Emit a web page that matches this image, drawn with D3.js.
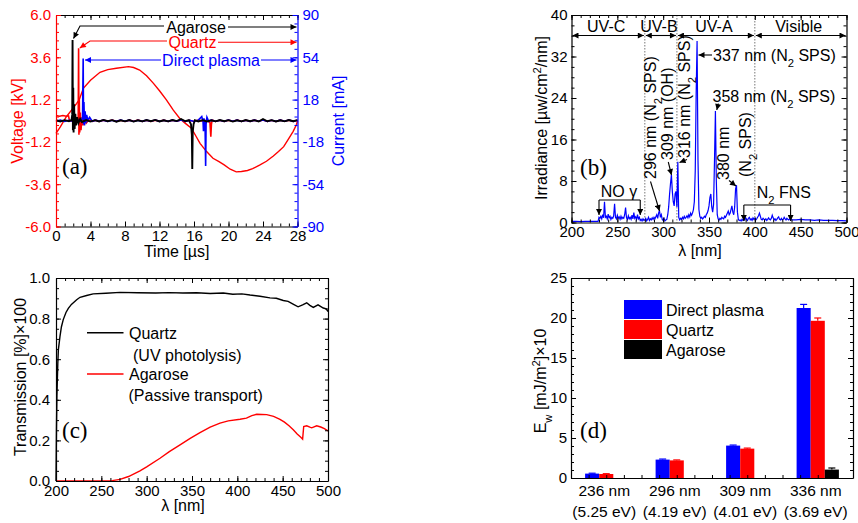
<!DOCTYPE html>
<html><head><meta charset="utf-8">
<script src="https://cdn.jsdelivr.net/npm/d3@7"></script>
<style>
body{margin:0;background:#fff}
svg{display:block}
</style>
</head><body>
<svg id="c" width="858" height="523" font-family="Liberation Sans, Arial, sans-serif"></svg>
<script>
// ---------------- DATA ----------------
// (a) voltage [kV] vs time [us]
const voltage = [[0,-0.72],[0.5,-0.35],[1.2,0.23],[1.8,0.6],[2.4,0.99],[2.7,1.2],[3.17,1.84],[4,2.3],[5.1,2.75],[6,2.9],[7,2.98],[8.4,3.07],[9,3.02],[9.7,2.88],[10.5,2.55],[11.3,2.12],[12,1.7],[12.8,1.18],[13.6,0.6],[14.4,0.1],[15,-0.15],[15.7,-0.43],[16.2,-0.85],[16.7,-1.28],[17.46,-1.75],[18.2,-2.13],[18.9,-2.32],[19.5,-2.5],[20.2,-2.75],[20.9,-2.9],[21.5,-2.88],[22.2,-2.82],[22.8,-2.72],[23.6,-2.52],[24.4,-2.3],[25.2,-2.0],[25.8,-1.75],[26.4,-1.47],[27,-1.0],[27.5,-0.6],[27.9,-0.2],[28,0]];
// (a) currents [mA]
const curQuartz = [[0,4.5],[0.4,3.9],[0.8,4.4],[1.2,3.9],[1.45,4.2],[1.55,0.5],[1.9,-0.5],[2.2,0.6],[2.5,-0.4],[2.58,4],[2.62,61.6],[2.66,-12],[2.7,18],[2.75,-10],[2.82,7],[2.9,-8],[3.0,3],[3.12,-4],[3.3,2],[3.5,-2],[3.8,0.6],[4.2,-0.5],[4.6,0.5],[5,-0.6],[5.5,0.5],[6,-0.4],[6.5,0.6],[7,-0.5],[7.5,0.4],[8,-0.6],[8.5,0.5],[9,-0.4],[9.5,0.6],[10,-0.5],[10.5,0.4],[11,-0.6],[11.5,0.5],[12,-0.4],[12.5,0.5],[13,-0.6],[13.5,0.4],[14,-0.4],[14.5,0.6],[15,-0.5],[15.5,0.4],[16,-0.6],[16.5,0.5],[17,-0.4],[17.5,0.5],[17.85,-1.5],[17.95,-13.5],[18.02,-3],[18.1,0.5],[18.5,-0.5],[19,0.4],[19.5,-0.6],[20,0.5],[20.5,-0.4],[21,0.6],[21.5,-0.5],[22,0.4],[22.5,-0.5],[23,0.5],[23.5,-0.4],[24,0.6],[24.5,-0.5],[25,0.4],[25.5,-0.6],[26,0.5],[26.5,-0.4],[27,0.5],[27.5,-0.5],[28,0.4]];
const curDirect = [[0,-0.5],[0.5,0.5],[1,-0.6],[1.5,0.4],[2,-0.5],[2.5,0.6],[2.9,-0.5],[3.08,3],[3.15,53],[3.19,-3],[3.24,16],[3.3,-4],[3.38,8],[3.46,-2],[3.55,5],[3.7,0.5],[3.9,3],[4.2,-0.5],[4.6,0.5],[5,-0.4],[5.5,0.5],[6,-0.6],[6.5,0.4],[7,-0.5],[7.5,0.6],[8,-0.4],[8.5,0.5],[9,-0.6],[9.5,0.4],[10,-0.5],[10.5,0.5],[11,-0.4],[11.5,0.6],[12,-0.5],[12.5,0.4],[13,-0.5],[13.5,0.5],[14,-0.4],[14.5,0.6],[15,-0.5],[15.5,0.4],[16,-0.6],[16.5,0.5],[16.9,3.5],[17.05,-1],[17.1,-9],[17.15,2],[17.28,-2],[17.35,-38.5],[17.4,-3],[17.5,3],[17.7,-0.5],[18,0.5],[18.5,-0.5],[19,0.4],[19.5,-0.5],[20,0.6],[20.5,-0.4],[21,0.5],[21.5,-0.6],[22,0.4],[22.5,-0.5],[23,0.5],[23.5,-0.4],[24,0.6],[24.5,-0.5],[25,0.4],[25.5,-0.5],[26,0.5],[26.5,-0.4],[27,0.6],[27.5,-0.5],[28,0.4]];
const curAgarose = [[0,0.4],[0.5,-0.6],[1,0.5],[1.5,-0.4],[1.8,0.5],[1.88,5],[1.92,68.7],[1.96,-8],[2.0,28],[2.04,-10],[2.1,14],[2.16,-7],[2.24,6],[2.32,-4],[2.45,3],[2.6,-2],[2.8,1.5],[3.0,-1.0],[3.5,0.6],[4,-0.7],[4.5,0.5],[5,-0.6],[5.5,0.7],[6,-0.4],[6.5,0.5],[7,-0.8],[7.5,0.4],[8,-0.5],[8.5,0.6],[9,-0.7],[9.5,0.4],[10,-0.5],[10.5,0.6],[11,-0.4],[11.5,0.7],[12,-0.6],[12.5,0.4],[13,-0.5],[13.5,0.6],[14,-0.3],[14.5,1.5],[15,-0.4],[15.4,0.5],[15.65,-3],[15.75,-12],[15.8,-41],[15.85,-10],[15.95,-3],[16.1,0.5],[16.5,-0.6],[17,0.5],[17.5,-0.6],[18,0.4],[18.5,-0.5],[19,0.6],[19.5,-0.4],[20,0.5],[20.5,-0.7],[21,0.4],[21.5,-0.5],[22,0.6],[22.5,-0.4],[23,0.5],[23.5,-0.6],[24,1.5],[24.5,-0.4],[25,0.5],[25.5,-0.6],[26,0.4],[26.5,-0.5],[27,0.6],[27.5,-0.4],[28,0.5]];
const timeTicks = [0,4,8,12,16,20,24,28];
const voltTicks = [-6,-3.6,-1.2,1.2,3.6,6];
const currTicks = [-90,-54,-18,18,54,90];

// (b) irradiance spectrum [uW/cm2/nm]
const spectrum = [[200,0.2],[205,0.2],[210,0.15],[215,0.2],[220,0.2],[225,0.2],[229,0.2],[230,1.0],[231,0.8],[232,1.2],[233,0.7],[234,1.5],[235,0.9],[236,4.0],[237,1.0],[238,1.2],[239,0.7],[240,1.6],[241,0.9],[242,1.2],[243,0.6],[244,1.0],[245,0.8],[246,1.3],[247,3.6],[248,1.0],[249,0.7],[250,1.4],[251,0.8],[252,1.1],[253,0.6],[254,1.2],[255,0.7],[256,1.0],[257,0.8],[258,1.5],[259,2.9],[260,0.9],[261,0.6],[262,1.3],[263,0.7],[264,1.0],[265,0.6],[266,1.4],[267,0.7],[268,1.9],[269,0.8],[270,1.1],[271,0.6],[272,1.5],[273,0.7],[274,1.0],[275,0.4],[276,0.6],[277,0.3],[278,0.7],[279,0.4],[280,0.5],[281,0.8],[282,0.3],[283,0.6],[284,1.0],[285,0.4],[286,0.7],[287,0.5],[288,0.9],[289,0.6],[290,1.0],[291,0.7],[292,1.1],[293,1.5],[294,0.8],[295,1.8],[296,2.3],[297,1.0],[298,1.5],[299,0.6],[300,0.4],[301,0.8],[302,0.3],[303,0.5],[304,0.6],[305,1.5],[306,3.0],[307,5.5],[308,7.5],[309,9.2],[310,6.0],[311,4.0],[312,3.2],[313,5.5],[314,6.0],[315,3.0],[316,11.7],[317,1.0],[318,0.5],[319,0.8],[320,0.6],[321,1.0],[322,0.7],[323,1.2],[324,0.8],[325,1.0],[326,1.3],[327,0.9],[328,1.5],[329,1.1],[330,1.8],[331,1.4],[332,1.8],[333,2.5],[334,4.0],[335,10],[336,25],[337,35],[338,12],[339,2.5],[340,1.2],[341,0.8],[342,1.0],[343,0.7],[344,0.9],[345,1.2],[346,1.0],[347,1.5],[348,1.8],[349,2.3],[350,3.2],[351,4.8],[352,5.5],[353,3.0],[354,2.0],[355,3.5],[356,12],[357,21.5],[358,8],[359,1.5],[360,0.7],[361,0.5],[362,0.8],[363,0.6],[364,1.0],[365,0.8],[366,0.7],[367,1.2],[368,1.0],[369,1.4],[370,1.8],[371,2.2],[372,1.5],[373,1.8],[374,2.5],[375,3.2],[376,2.0],[377,1.5],[378,3.0],[379,6.5],[380,7.2],[381,2.0],[382,0.6],[383,0.4],[384,0.5],[385,0.3],[386,0.6],[387,0.4],[388,0.7],[389,0.5],[390,0.9],[391,0.6],[392,0.4],[393,0.8],[394,1.0],[395,0.5],[396,0.7],[397,0.4],[398,0.9],[399,0.6],[400,0.8],[401,0.5],[402,0.7],[403,1.0],[404,1.3],[405,1.8],[406,1.2],[407,0.6],[408,0.5],[409,0.8],[410,0.6],[411,0.5],[412,0.7],[413,0.4],[414,0.6],[415,0.9],[416,0.6],[417,0.5],[418,0.8],[419,1.4],[420,0.9],[421,0.5],[422,0.7],[423,0.4],[424,0.6],[425,0.9],[426,1.1],[427,0.6],[428,0.5],[429,0.8],[430,0.5],[431,0.6],[432,1.0],[433,0.7],[434,0.5],[435,0.8],[436,0.6],[437,0.5],[438,0.7],[439,0.9],[440,0.5],[445,0.5],[450,0.6],[455,0.5],[460,0.5],[465,0.4],[470,0.5],[475,0.4],[480,0.4],[485,0.4],[490,0.35],[495,0.35],[500,0.3]];
const wlTicks = [200,250,300,350,400,450,500];
const irrTicks = [0,8,16,24,32,40];
const regions = [["UV-C",200,280],["UV-B",280,315],["UV-A",315,400],["Visible",400,500]];

// (c) transmission
const transQuartz = [[200,0.0],[200.5,0.25],[201,0.42],[202,0.58],[202.6,0.646],[204.4,0.712],[206,0.76],[208,0.795],[211,0.83],[213.6,0.85],[217,0.87],[222.8,0.893],[226.5,0.905],[233.8,0.914],[241,0.922],[255,0.925],[270.6,0.929],[290,0.927],[310,0.926],[325,0.928],[340,0.926],[355,0.927],[370,0.924],[384.5,0.926],[395,0.92],[405,0.922],[414,0.916],[425,0.91],[436,0.902],[443,0.9],[450.7,0.889],[456,0.885],[462,0.87],[467,0.858],[472,0.868],[476.5,0.878],[480,0.865],[483.8,0.855],[489,0.868],[494.8,0.852],[498,0.848],[500,0.835]];
const transAgarose = [[200,0],[250,0],[262,0.002],[270.6,0.008],[280,0.022],[292.6,0.05],[300,0.07],[314.7,0.112],[325,0.145],[336.8,0.178],[348,0.21],[358.8,0.238],[370,0.265],[380.9,0.285],[390,0.296],[403,0.304],[410,0.31],[416,0.322],[421.4,0.329],[432.4,0.327],[440,0.318],[447,0.304],[452,0.29],[457,0.272],[461.7,0.252],[466,0.232],[470,0.215],[472,0.206],[473.2,0.268],[476.5,0.272],[480,0.265],[482,0.262],[487.5,0.272],[492,0.266],[496,0.258],[500,0.247]];
const transTicks = [0,0.2,0.4,0.6,0.8,1.0];

// (d) weighted dose
const doseCats = ["236 nm","296 nm","309 nm","336 nm"];
const doseEv = ["(5.25 eV)","(4.19 eV)","(4.01 eV)","(3.69 eV)"];
const doseSeries = ["Direct plasma","Quartz","Agarose"];
const doseDirect = [0.55,2.3,4.05,21.25];
const doseQuartz = [0.5,2.2,3.67,19.65];
const doseAgarose = [0,0,0,1.05];
const errDirect = [0.05,0.07,0.07,0.45];
const errQuartz = [0.04,0.06,0.07,0.35];
const errAgarose = [0,0,0,0.2];
const doseTicks = [0,5,10,15,20,25];

// ---------------- DRAW ----------------
const RED = "#ff0000", BLUE = "#0000ff", BLK = "#000";
const SANS = "Liberation Sans, Arial, sans-serif";
const SERIF = "Liberation Serif, Times New Roman, serif";
const svg = d3.select("#c");
const defs = svg.append("defs");
[["ahk",BLK],["ahr",RED],["ahb",BLUE]].forEach(([id,c])=>{
  defs.append("marker").attr("id",id).attr("viewBox","0 0 10 10").attr("refX",10).attr("refY",5)
    .attr("markerWidth",7).attr("markerHeight",6).attr("markerUnits","userSpaceOnUse")
    .attr("orient","auto-start-reverse")
    .append("path").attr("d","M0,0 L10,5 L0,10 z").attr("fill",c);
});

function styleAx(sel, col, lab){
  sel.attr("font-family",SANS).attr("font-size",15);
  sel.select(".domain").attr("stroke",col).attr("stroke-width",1.2);
  sel.selectAll(".tick line").attr("stroke",col).attr("stroke-width",1);
  sel.selectAll("text").attr("fill",lab||"#000");
}
function minor(sel, col){ sel.select(".domain").remove(); sel.selectAll(".tick line").attr("stroke",col); sel.selectAll("text").remove(); }

function frame(x, y, o){
  const X0=x.range()[0], X1=x.range()[1], Y0=y.range()[0], Y1=y.range()[1];
  const g = svg.append("g");
  styleAx(g.append("g").attr("transform",`translate(0,${Y0})`).call(d3.axisBottom(x).tickValues(o.xt).tickSizeInner(-5).tickSizeOuter(0).tickPadding(4).tickFormat(o.xf||(d=>d))), BLK);
  minor(g.append("g").attr("transform",`translate(0,${Y0})`).call(d3.axisBottom(x).tickValues(o.xm).tickSize(-3)), BLK);
  styleAx(g.append("g").attr("transform",`translate(0,${Y1})`).call(d3.axisTop(x).tickValues(o.xt).tickSizeInner(-5).tickSizeOuter(0).tickFormat("")), BLK);
  minor(g.append("g").attr("transform",`translate(0,${Y1})`).call(d3.axisTop(x).tickValues(o.xm).tickSize(-3)), BLK);
  const lc = o.lc||BLK;
  styleAx(g.append("g").attr("transform",`translate(${X0},0)`).call(d3.axisLeft(y).tickValues(o.yt).tickSizeInner(-5).tickSizeOuter(0).tickPadding(o.ypad||5).tickFormat(o.yf||(d=>d))), lc, lc);
  minor(g.append("g").attr("transform",`translate(${X0},0)`).call(d3.axisLeft(y).tickValues(o.ym).tickSize(-3)), lc);
  const y2 = o.y2||y, rc = o.rc||BLK;
  styleAx(g.append("g").attr("transform",`translate(${X1},0)`).call(d3.axisRight(y2).tickValues(o.y2t||o.yt).tickSizeInner(-5).tickSizeOuter(0).tickPadding(5).tickFormat(o.y2f||"")), rc, rc);
  minor(g.append("g").attr("transform",`translate(${X1},0)`).call(d3.axisRight(y2).tickValues(o.y2m||o.ym).tickSize(-3)), rc);
  return g;
}
function txt(x,y,s,o={}){
  const t = svg.append("text").attr("x",x).attr("y",y).attr("fill",o.fill||BLK)
    .attr("font-size",o.size||16).attr("text-anchor",o.anchor||"start")
    .attr("font-family", o.serif?SERIF:SANS);
  if(o.dy) t.attr("dy",o.dy);
  if(o.rot) t.attr("transform",`rotate(-90,${x},${y})`);
  (Array.isArray(s)?s:[[s]]).forEach(p=>{
    const ts = t.append("tspan").text(p[0]);
    if(p[1]==="sub") ts.attr("baseline-shift","sub").attr("font-size","70%");
    if(p[1]==="sup") ts.attr("baseline-shift","super").attr("font-size","70%");
  });
  return t;
}
function arrow(d, col, id, start){
  const p = svg.append("path").attr("d",d).attr("fill","none").attr("stroke",col).attr("stroke-width",1.1)
    .attr("marker-end",`url(#${id})`);
  if(start) p.attr("marker-start",`url(#${id})`);
  return p;
}

// ===== (a) =====
{
  const x = d3.scaleLinear().domain([0,28]).range([56,297.5]);
  const yV = d3.scaleLinear().domain([-6,6]).range([226.5,15]);
  const yI = d3.scaleLinear().domain([-90,90]).range([226.5,15]);
  const line = (ys)=>d3.line().x(d=>x(d[0])).y(d=>ys(d[1]));
  svg.append("path").datum(voltage).attr("d",line(yV)).attr("fill","none").attr("stroke",RED).attr("stroke-width",1.4);
  svg.append("path").datum(curQuartz).attr("d",line(yI)).attr("fill","none").attr("stroke",RED).attr("stroke-width",1.6);
  svg.append("path").datum(curDirect).attr("d",line(yI)).attr("fill","none").attr("stroke",BLUE).attr("stroke-width",1.6);
  svg.append("path").datum(curAgarose).attr("d",line(yI)).attr("fill","none").attr("stroke",BLK).attr("stroke-width",1.9);
  frame(x, yV, {xt:timeTicks, xm:d3.range(0,28.01,1), yt:voltTicks, ym:d3.range(-6,6.01,0.48), yf:d=>d.toFixed(1), lc:RED,
    y2:yI, y2t:currTicks, y2m:d3.range(-90,90.1,7.2), y2f:d=>String(d), rc:BLUE});
  txt(17,121,"Voltage [kV]",{rot:true,anchor:"middle",dy:"0.35em",fill:RED});
  txt(338,121,"Current [mA]",{rot:true,anchor:"middle",dy:"0.35em",fill:BLUE});
  txt(176.7,251,"Time [\u00b5s]",{anchor:"middle",dy:"0.35em"});
  txt(62,166,"(a)",{serif:true,size:23,dy:"0.35em"});
  // annotations
  txt(196,27,"Agarose",{anchor:"middle",dy:"0.35em"});
  arrow("M228,27 L296.5,27",BLK,"ahk");
  arrow("M164,26 L80,26 L73.5,38.5",BLK,"ahk");
  txt(192.5,42,"Quartz",{anchor:"middle",dy:"0.35em",fill:RED});
  arrow("M218,42.3 L296.5,42.3",RED,"ahr");
  arrow("M167,41 L90,41 L79.8,48",RED,"ahr");
  txt(211,60,"Direct plasma",{anchor:"middle",dy:"0.35em",fill:BLUE});
  arrow("M261,60 L296.5,60",BLUE,"ahb");
  arrow("M161,60 L85,60",BLUE,"ahb");
}

// ===== (b) =====
{
  const x = d3.scaleLinear().domain([200,500]).range([571.5,846.5]);
  const y = d3.scaleLinear().domain([0,40]).range([222.5,15]);
  regions.slice(1).forEach(r=>{
    svg.append("line").attr("x1",x(r[1])).attr("x2",x(r[1])).attr("y1",15).attr("y2",222.5)
      .attr("stroke","#777").attr("stroke-width",1).attr("stroke-dasharray","1.5,1.5");
  });
  svg.append("path").datum(spectrum).attr("d",d3.line().x(d=>x(d[0])).y(d=>y(d[1])))
    .attr("fill","none").attr("stroke",BLUE).attr("stroke-width",1.2);
  frame(x, y, {xt:wlTicks, xm:d3.range(200,500.1,10), yt:irrTicks, ym:d3.range(0,40.1,2), ypad:4});
  regions.forEach(r=>{
    arrow(`M${x(r[1])+1},35.5 L${x(r[2])-1},35.5`,BLK,"ahk",true);
    txt((x(r[1])+x(r[2]))/2 - 2, 31.5, r[0], {anchor:"middle"});
  });
  txt(541,118,[["Irradiance [\u00b5w/cm"],["2","sup"],["/nm]"]],{rot:true,anchor:"middle",dy:"0.35em"});
  txt(700,250,"\u03bb [nm]",{anchor:"middle",dy:"0.35em"});
  txt(580,167,"(b)",{serif:true,size:23,dy:"0.35em"});
  txt(713,55,[["337 nm (N"],["2","sub"],[" SPS)"]],{dy:"0.35em"});
  arrow("M712,55 L698.5,55",BLK,"ahk");
  txt(712.5,96,[["358 nm (N"],["2","sub"],[" SPS)"]],{dy:"0.35em"});
  arrow("M718.3,103.5 L716.8,110",BLK,"ahk");
  txt(655.5,179,[["296 nm (N"],["2","sub"],[" SPS)"]],{rot:true});
  arrow("M650.5,181.5 L659.5,211",BLK,"ahk");
  txt(673,160,"309 nm (OH)",{rot:true});
  arrow("M668.3,162 L671.5,175",BLK,"ahk");
  txt(690,158,[["316 nm (N"],["2","sub"],[" SPS)"]],{rot:true});
  arrow("M687,159.5 L679.5,162.5",BLK,"ahk");
  txt(729,180,"380 nm",{rot:true});
  txt(750.5,177,[["(N"],["2","sub"],[" SPS)"]],{rot:true});
  arrow("M729,180.5 L736,186",BLK,"ahk");
  txt(619,197,"NO \u03b3",{anchor:"middle"});
  svg.append("path").attr("d",`M${x(230)},200 L${x(275)},200`).attr("stroke",BLK).attr("stroke-width",1.1).attr("fill","none");
  arrow(`M${x(230)},200 L${x(230)},215`,BLK,"ahk");
  arrow(`M${x(275)},200 L${x(275)},215`,BLK,"ahk");
  txt(756.7,198,[["N"],["2","sub"],[" FNS"]]);
  svg.append("path").attr("d",`M${x(388)},205 L${x(439)},205`).attr("stroke",BLK).attr("stroke-width",1.1).attr("fill","none");
  arrow(`M${x(388)},205 L${x(388)},221`,BLK,"ahk");
  arrow(`M${x(439)},205 L${x(439)},221`,BLK,"ahk");
}

// ===== (c) =====
{
  const x = d3.scaleLinear().domain([200,500]).range([56,328]);
  const y = d3.scaleLinear().domain([0,1]).range([481,278]);
  const line = d3.line().x(d=>x(d[0])).y(d=>y(d[1]));
  svg.append("path").datum(transQuartz).attr("d",line).attr("fill","none").attr("stroke",BLK).attr("stroke-width",1.4);
  svg.append("path").datum(transAgarose).attr("d",line).attr("fill","none").attr("stroke",RED).attr("stroke-width",1.4);
  frame(x, y, {xt:wlTicks, xm:d3.range(200,500.1,10), yt:transTicks, ym:d3.range(0,1.001,0.05), yf:d=>d.toFixed(1), ypad:6});
  txt(20,377,"Transmission [%]\u00d7100",{rot:true,anchor:"middle",dy:"0.35em"});
  txt(183,505,"\u03bb [nm]",{anchor:"middle",dy:"0.35em"});
  txt(62,430,"(c)",{serif:true,size:23,dy:"0.35em"});
  svg.append("line").attr("x1",87).attr("x2",123.5).attr("y1",332.7).attr("y2",332.7).attr("stroke",BLK).attr("stroke-width",1.5);
  txt(129,333.5,"Quartz",{dy:"0.35em"});
  txt(133,355,"(UV photolysis)",{dy:"0.35em"});
  svg.append("line").attr("x1",87).attr("x2",123.5).attr("y1",374).attr("y2",374).attr("stroke",RED).attr("stroke-width",1.5);
  txt(129,374.5,"Agarose",{dy:"0.35em"});
  txt(128.5,395.5,"(Passive transport)",{dy:"0.35em"});
}

// ===== (d) =====
{
  const x0 = d3.scaleBand().domain(doseCats).range([571,853]).paddingInner(0.4).paddingOuter(0.2);
  const x1 = d3.scaleBand().domain(doseSeries).range([0,x0.bandwidth()]);
  const y = d3.scaleLinear().domain([0,25]).range([478,278]);
  const cols = {"Direct plasma":BLUE,"Quartz":RED,"Agarose":BLK};
  const vals = {"Direct plasma":doseDirect,"Quartz":doseQuartz,"Agarose":doseAgarose};
  const errs = {"Direct plasma":errDirect,"Quartz":errQuartz,"Agarose":errAgarose};
  doseSeries.forEach(s=>{
    doseCats.forEach((c,i)=>{
      const v = vals[s][i]; if(v<=0) return;
      const bx = x0(c)+x1(s);
      svg.append("rect").attr("x",bx).attr("y",y(v)).attr("width",x1.bandwidth()).attr("height",y(0)-y(v)).attr("fill",cols[s]);
      const e = errs[s][i], cx = bx + x1.bandwidth()/2;
      if(e>0){
        svg.append("line").attr("x1",cx).attr("x2",cx).attr("y1",y(v)).attr("y2",y(v+e)).attr("stroke",cols[s]).attr("stroke-width",1.2);
        svg.append("line").attr("x1",cx-3.5).attr("x2",cx+3.5).attr("y1",y(v+e)).attr("y2",y(v+e)).attr("stroke",cols[s]).attr("stroke-width",1.2);
      }
    });
  });
  const xl = d3.scaleLinear().domain([0,16]).range([571,853]);
  frame(xl, y, {xt:[], xm:d3.range(0,16.1,1), yt:doseTicks, ym:d3.range(0,25.1,1), ypad:4});
  doseCats.forEach((c,i)=>{
    const cx = x0(c)+x0.bandwidth()/2 - 2;
    txt(cx,490.5,c,{anchor:"middle",size:15.5,dy:"0.35em"});
    txt(cx,511.5,doseEv[i],{anchor:"middle",size:15.5,dy:"0.35em"});
  });
  txt(540,381,[["E"],["w","sub"],[" [mJ/m"],["2","sup"],["]\u00d710"]],{rot:true,anchor:"middle",dy:"0.35em"});
  txt(580,430,"(d)",{serif:true,size:23,dy:"0.35em"});
  doseSeries.forEach((s,i)=>{
    svg.append("rect").attr("x",624).attr("y",300+i*20).attr("width",38).attr("height",19).attr("fill",cols[s]);
    txt(666,310+i*20,s,{dy:"0.35em"});
  });
}
</script>
</body></html>
